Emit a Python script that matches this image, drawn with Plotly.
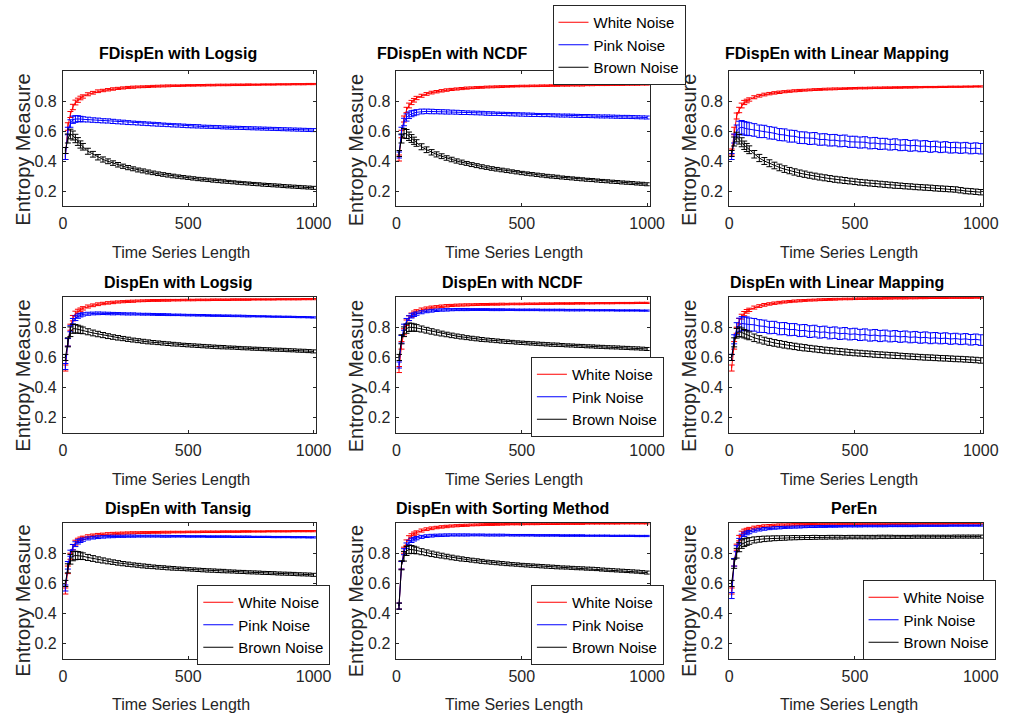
import plotly.graph_objects as go

# ---------------- data ----------------
X = [10, 20, 30, 40, 50, 60, 70, 80,
     100, 120, 140, 160, 180, 200, 220, 240, 260, 280, 300,
     320, 340, 360, 380, 400, 420, 440, 460, 480, 500,
     520, 540, 560, 580, 600, 620, 640, 660, 680, 700,
     720, 740, 760, 780, 800, 820, 840, 860, 880, 900,
     920, 940, 960, 980, 1000]

TITLES = ["FDispEn with Logsig", "FDispEn with NCDF", "FDispEn with Linear Mapping",
          "DispEn with Logsig", "DispEn with NCDF", "DispEn with Linear Mapping",
          "DispEn with Tansig", "DispEn with Sorting Method", "PerEn"]
SERIES_NAMES = ["White Noise", "Pink Noise", "Brown Noise"]
X_TICKS = [0, 500, 1000]
Y_TICKS = [0.2, 0.4, 0.6, 0.8]

# Panel 1: FDispEn with Logsig
W1 = [0.43, 0.63, 0.71, 0.76, 0.79, 0.805, 0.82, 0.83,
      0.845, 0.855, 0.865, 0.87, 0.875, 0.88, 0.884, 0.887, 0.89, 0.892, 0.894,
      0.895, 0.896, 0.898, 0.899, 0.9, 0.901, 0.902, 0.902, 0.903, 0.904,
      0.904, 0.905, 0.905, 0.906, 0.906, 0.907, 0.907, 0.907, 0.908, 0.908,
      0.908, 0.909, 0.909, 0.909, 0.91, 0.91, 0.91, 0.911, 0.911, 0.911,
      0.912, 0.912, 0.912, 0.913, 0.913]
P1 = [0.43, 0.6, 0.65, 0.675, 0.68, 0.682, 0.68, 0.678,
      0.676, 0.673, 0.671, 0.668, 0.667, 0.664, 0.661, 0.659, 0.656, 0.654, 0.652,
      0.65, 0.648, 0.646, 0.644, 0.642, 0.64, 0.638, 0.637, 0.635, 0.633,
      0.632, 0.631, 0.629, 0.628, 0.627, 0.626, 0.624, 0.623, 0.622, 0.621,
      0.62, 0.619, 0.618, 0.617, 0.616, 0.615, 0.614, 0.613, 0.612, 0.611,
      0.61, 0.609, 0.608, 0.607, 0.606]
B1 = [0.47, 0.55, 0.58, 0.57, 0.55, 0.53, 0.51, 0.495,
      0.465, 0.445, 0.425, 0.41, 0.398, 0.386, 0.375, 0.365, 0.356, 0.348, 0.34,
      0.334, 0.327, 0.321, 0.315, 0.31, 0.305, 0.3, 0.296, 0.292, 0.288,
      0.284, 0.28, 0.277, 0.274, 0.27, 0.267, 0.264, 0.261, 0.258, 0.255,
      0.252, 0.25, 0.247, 0.245, 0.242, 0.24, 0.238, 0.236, 0.233, 0.231,
      0.229, 0.227, 0.225, 0.223, 0.221]

# Panel 2: FDispEn with NCDF
W2 = [0.42, 0.58, 0.68, 0.74, 0.77, 0.79, 0.805, 0.82,
      0.835, 0.847, 0.856, 0.862, 0.868, 0.873, 0.877, 0.88, 0.883, 0.886, 0.888,
      0.89, 0.891, 0.893, 0.894, 0.895, 0.896, 0.897, 0.898, 0.899, 0.9,
      0.9, 0.901, 0.901, 0.902, 0.902, 0.903, 0.903, 0.904, 0.904, 0.905,
      0.905, 0.905, 0.906, 0.906, 0.907, 0.907, 0.907, 0.908, 0.908, 0.908,
      0.909, 0.909, 0.909, 0.91, 0.91]
P2 = [0.44, 0.6, 0.66, 0.69, 0.705, 0.715, 0.72, 0.725,
      0.73, 0.731, 0.73, 0.729, 0.728, 0.727, 0.726, 0.725, 0.723, 0.722, 0.721,
      0.72, 0.719, 0.717, 0.716, 0.715, 0.714, 0.713, 0.712, 0.711, 0.71,
      0.709, 0.708, 0.707, 0.706, 0.706, 0.705, 0.704, 0.703, 0.703, 0.702,
      0.701, 0.7, 0.7, 0.699, 0.698, 0.697, 0.697, 0.696, 0.695, 0.694,
      0.694, 0.693, 0.692, 0.691, 0.69]
B2 = [0.45, 0.55, 0.585, 0.58, 0.565, 0.55, 0.535, 0.52,
      0.495, 0.475, 0.458, 0.444, 0.432, 0.42, 0.41, 0.4, 0.392, 0.384, 0.376,
      0.369, 0.362, 0.356, 0.35, 0.345, 0.34, 0.335, 0.33, 0.325, 0.32,
      0.316, 0.312, 0.308, 0.304, 0.3, 0.297, 0.294, 0.29, 0.287, 0.284,
      0.281, 0.278, 0.275, 0.273, 0.27, 0.267, 0.265, 0.262, 0.26, 0.257,
      0.255, 0.253, 0.25, 0.248, 0.245]

# Panel 3: FDispEn with Linear Mapping
W3 = [0.46, 0.6, 0.7, 0.74, 0.77, 0.79, 0.8, 0.81,
      0.825, 0.835, 0.843, 0.849, 0.854, 0.858, 0.862, 0.865, 0.868, 0.87, 0.872,
      0.874, 0.876, 0.877, 0.879, 0.88, 0.881, 0.882, 0.883, 0.884, 0.885,
      0.886, 0.886, 0.887, 0.888, 0.888, 0.889, 0.889, 0.89, 0.89, 0.891,
      0.891, 0.892, 0.892, 0.893, 0.893, 0.893, 0.894, 0.894, 0.895, 0.895,
      0.895, 0.896, 0.896, 0.897, 0.897]
P3 = [0.43, 0.55, 0.6, 0.62, 0.625, 0.618, 0.615, 0.612,
      0.607, 0.598, 0.597, 0.588, 0.585, 0.576, 0.574, 0.566, 0.565, 0.556, 0.555,
      0.549, 0.551, 0.543, 0.544, 0.538, 0.539, 0.533, 0.535, 0.528, 0.528,
      0.523, 0.525, 0.518, 0.52, 0.514, 0.515, 0.509, 0.512, 0.505, 0.507,
      0.501, 0.504, 0.498, 0.5, 0.494, 0.497, 0.491, 0.494, 0.488, 0.49,
      0.486, 0.489, 0.483, 0.486, 0.482]
B3 = [0.45, 0.53, 0.56, 0.545, 0.525, 0.505, 0.49, 0.475,
      0.445, 0.42, 0.4, 0.385, 0.37, 0.357, 0.346, 0.336, 0.327, 0.319, 0.312,
      0.305, 0.299, 0.293, 0.288, 0.283, 0.278, 0.274, 0.27, 0.266, 0.262,
      0.258, 0.255, 0.252, 0.249, 0.246, 0.243, 0.24, 0.237, 0.235, 0.232,
      0.23, 0.227, 0.225, 0.223, 0.221, 0.218, 0.216, 0.214, 0.212, 0.21,
      0.205, 0.2, 0.198, 0.195, 0.192]

# Panel 4: DispEn with Logsig
W4 = [0.53, 0.7, 0.8, 0.86, 0.89, 0.905, 0.915, 0.925,
      0.937, 0.945, 0.952, 0.957, 0.961, 0.964, 0.967, 0.969, 0.971, 0.972, 0.974,
      0.975, 0.976, 0.977, 0.977, 0.978, 0.978, 0.979, 0.979, 0.98, 0.98,
      0.98, 0.981, 0.981, 0.981, 0.982, 0.982, 0.982, 0.982, 0.983, 0.983,
      0.983, 0.983, 0.984, 0.984, 0.984, 0.984, 0.984, 0.985, 0.985, 0.985,
      0.985, 0.985, 0.986, 0.986, 0.986]
P4 = [0.54, 0.7, 0.79, 0.84, 0.86, 0.873, 0.88, 0.885,
      0.889, 0.891, 0.892, 0.892, 0.891, 0.89, 0.89, 0.889, 0.888, 0.888, 0.887,
      0.886, 0.886, 0.885, 0.884, 0.884, 0.883, 0.882, 0.882, 0.881, 0.88,
      0.88, 0.879, 0.879, 0.878, 0.877, 0.877, 0.876, 0.876, 0.875, 0.875,
      0.874, 0.873, 0.873, 0.872, 0.872, 0.871, 0.87, 0.87, 0.869, 0.869,
      0.868, 0.867, 0.867, 0.866, 0.865]
B4 = [0.6, 0.7, 0.77, 0.79, 0.79, 0.787, 0.783, 0.779,
      0.77, 0.762, 0.755, 0.748, 0.741, 0.735, 0.73, 0.725, 0.72, 0.715, 0.711,
      0.707, 0.703, 0.7, 0.697, 0.694, 0.691, 0.688, 0.686, 0.683, 0.681,
      0.679, 0.677, 0.675, 0.673, 0.671, 0.669, 0.668, 0.666, 0.665, 0.663,
      0.661, 0.66, 0.658, 0.657, 0.655, 0.654, 0.652, 0.651, 0.65, 0.648,
      0.647, 0.645, 0.644, 0.642, 0.64]

# Panel 5: DispEn with NCDF
W5 = [0.52, 0.68, 0.77, 0.83, 0.86, 0.88, 0.895, 0.905,
      0.917, 0.925, 0.931, 0.935, 0.939, 0.942, 0.944, 0.946, 0.947, 0.948, 0.949,
      0.95, 0.951, 0.951, 0.952, 0.952, 0.953, 0.953, 0.954, 0.954, 0.954,
      0.955, 0.955, 0.955, 0.956, 0.956, 0.956, 0.957, 0.957, 0.957, 0.957,
      0.958, 0.958, 0.958, 0.958, 0.959, 0.959, 0.959, 0.959, 0.96, 0.96,
      0.96, 0.96, 0.961, 0.961, 0.961]
P5 = [0.55, 0.72, 0.8, 0.84, 0.86, 0.875, 0.883, 0.89,
      0.899, 0.905, 0.909, 0.912, 0.914, 0.915, 0.916, 0.917, 0.917, 0.917, 0.917,
      0.917, 0.917, 0.917, 0.916, 0.916, 0.916, 0.916, 0.916, 0.915, 0.915,
      0.915, 0.915, 0.915, 0.914, 0.914, 0.914, 0.914, 0.914, 0.913, 0.913,
      0.913, 0.913, 0.913, 0.912, 0.912, 0.912, 0.912, 0.912, 0.911, 0.911,
      0.911, 0.911, 0.911, 0.91, 0.91]
B5 = [0.6, 0.72, 0.77, 0.79, 0.8, 0.8, 0.798, 0.795,
      0.788, 0.78, 0.772, 0.765, 0.758, 0.752, 0.746, 0.741, 0.736, 0.731, 0.727,
      0.723, 0.719, 0.716, 0.713, 0.71, 0.707, 0.704, 0.702, 0.699, 0.697,
      0.695, 0.693, 0.691, 0.689, 0.687, 0.685, 0.684, 0.682, 0.68, 0.679,
      0.677, 0.676, 0.674, 0.673, 0.671, 0.67, 0.668, 0.667, 0.666, 0.664,
      0.663, 0.661, 0.66, 0.658, 0.656]

# Panel 6: DispEn with Linear Mapping
W6 = [0.53, 0.68, 0.78, 0.84, 0.87, 0.89, 0.905, 0.915,
      0.93, 0.94, 0.948, 0.954, 0.959, 0.963, 0.967, 0.97, 0.973, 0.975, 0.977,
      0.979, 0.98, 0.982, 0.983, 0.984, 0.985, 0.986, 0.987, 0.987, 0.988,
      0.989, 0.989, 0.99, 0.99, 0.99, 0.991, 0.991, 0.992, 0.992, 0.992,
      0.993, 0.993, 0.993, 0.993, 0.994, 0.994, 0.994, 0.994, 0.995, 0.995,
      0.995, 0.995, 0.995, 0.996, 0.996]
P6 = [0.6, 0.72, 0.79, 0.815, 0.825, 0.822, 0.824, 0.818,
      0.816, 0.808, 0.806, 0.798, 0.799, 0.79, 0.791, 0.784, 0.785, 0.777, 0.779,
      0.771, 0.774, 0.766, 0.769, 0.761, 0.764, 0.757, 0.76, 0.753, 0.756,
      0.749, 0.752, 0.745, 0.748, 0.742, 0.745, 0.739, 0.742, 0.736, 0.739,
      0.733, 0.736, 0.73, 0.733, 0.727, 0.73, 0.725, 0.728, 0.722, 0.725,
      0.72, 0.723, 0.717, 0.72, 0.715]
B6 = [0.6, 0.7, 0.76, 0.77, 0.765, 0.757, 0.75, 0.743,
      0.73, 0.72, 0.711, 0.703, 0.696, 0.69, 0.684, 0.678, 0.673, 0.668, 0.664,
      0.66, 0.656, 0.652, 0.648, 0.645, 0.642, 0.639, 0.636, 0.633, 0.63,
      0.628, 0.625, 0.623, 0.62, 0.618, 0.616, 0.614, 0.612, 0.61, 0.608,
      0.606, 0.604, 0.602, 0.6, 0.599, 0.597, 0.595, 0.594, 0.592, 0.59,
      0.589, 0.587, 0.585, 0.583, 0.58]

# Panel 7: DispEn with Tansig
W7 = [0.55, 0.69, 0.78, 0.84, 0.87, 0.885, 0.895, 0.902,
      0.912, 0.918, 0.922, 0.925, 0.928, 0.93, 0.932, 0.933, 0.934, 0.935, 0.936,
      0.937, 0.937, 0.938, 0.938, 0.939, 0.939, 0.94, 0.94, 0.94, 0.941,
      0.941, 0.941, 0.942, 0.942, 0.942, 0.942, 0.943, 0.943, 0.943, 0.943,
      0.944, 0.944, 0.944, 0.944, 0.944, 0.945, 0.945, 0.945, 0.945, 0.945,
      0.946, 0.946, 0.946, 0.946, 0.946]
P7 = [0.57, 0.72, 0.8, 0.84, 0.86, 0.875, 0.883, 0.89,
      0.898, 0.903, 0.906, 0.908, 0.91, 0.911, 0.912, 0.912, 0.913, 0.913, 0.913,
      0.913, 0.913, 0.913, 0.913, 0.912, 0.912, 0.912, 0.912, 0.912, 0.911,
      0.911, 0.911, 0.911, 0.91, 0.91, 0.91, 0.91, 0.91, 0.909, 0.909,
      0.909, 0.909, 0.908, 0.908, 0.908, 0.908, 0.907, 0.907, 0.907, 0.907,
      0.906, 0.906, 0.906, 0.905, 0.905]
B7 = [0.6, 0.7, 0.76, 0.78, 0.785, 0.785, 0.783, 0.78,
      0.772, 0.765, 0.758, 0.752, 0.746, 0.741, 0.736, 0.731, 0.727, 0.723, 0.72,
      0.716, 0.713, 0.71, 0.707, 0.705, 0.702, 0.7, 0.698, 0.696, 0.694,
      0.692, 0.69, 0.688, 0.686, 0.685, 0.683, 0.682, 0.68, 0.679, 0.677,
      0.676, 0.674, 0.673, 0.672, 0.67, 0.669, 0.668, 0.666, 0.665, 0.664,
      0.663, 0.661, 0.66, 0.659, 0.657]

# Panel 8: DispEn with Sorting Method
W8 = [0.45, 0.72, 0.82, 0.87, 0.9, 0.915, 0.928, 0.937,
      0.95, 0.959, 0.965, 0.97, 0.974, 0.977, 0.98, 0.982, 0.984, 0.985, 0.987,
      0.988, 0.989, 0.99, 0.99, 0.991, 0.992, 0.992, 0.993, 0.993, 0.993,
      0.994, 0.994, 0.994, 0.995, 0.995, 0.995, 0.995, 0.996, 0.996, 0.996,
      0.996, 0.996, 0.997, 0.997, 0.997, 0.997, 0.997, 0.997, 0.997, 0.998,
      0.998, 0.998, 0.998, 0.998, 0.998]
P8 = [0.45, 0.72, 0.81, 0.85, 0.87, 0.885, 0.893, 0.9,
      0.908, 0.913, 0.916, 0.918, 0.919, 0.92, 0.921, 0.921, 0.921, 0.921, 0.921,
      0.921, 0.921, 0.92, 0.92, 0.92, 0.92, 0.92, 0.919, 0.919, 0.919,
      0.919, 0.919, 0.918, 0.918, 0.918, 0.918, 0.918, 0.917, 0.917, 0.917,
      0.917, 0.917, 0.916, 0.916, 0.916, 0.916, 0.916, 0.915, 0.915, 0.915,
      0.915, 0.915, 0.914, 0.914, 0.914]
B8 = [0.45, 0.72, 0.78, 0.815, 0.825, 0.825, 0.822, 0.818,
      0.81, 0.803, 0.796, 0.79, 0.784, 0.778, 0.772, 0.767, 0.762, 0.758, 0.754,
      0.75, 0.746, 0.742, 0.739, 0.736, 0.733, 0.73, 0.727, 0.725, 0.722,
      0.72, 0.718, 0.716, 0.714, 0.712, 0.71, 0.708, 0.706, 0.705, 0.703,
      0.701, 0.7, 0.698, 0.697, 0.695, 0.692, 0.69, 0.688, 0.686, 0.684,
      0.682, 0.68, 0.678, 0.675, 0.672]

# Panel 9: PerEn
W9 = [0.55, 0.74, 0.84, 0.9, 0.93, 0.945, 0.953, 0.96,
      0.969, 0.975, 0.979, 0.982, 0.984, 0.986, 0.987, 0.988, 0.989, 0.99, 0.99,
      0.991, 0.991, 0.992, 0.992, 0.992, 0.993, 0.993, 0.993, 0.993, 0.994,
      0.994, 0.994, 0.994, 0.994, 0.995, 0.995, 0.995, 0.995, 0.995, 0.995,
      0.996, 0.996, 0.996, 0.996, 0.996, 0.996, 0.996, 0.996, 0.997, 0.997,
      0.997, 0.997, 0.997, 0.997, 0.997]
P9 = [0.52, 0.74, 0.83, 0.88, 0.91, 0.925, 0.934, 0.94,
      0.95, 0.956, 0.961, 0.964, 0.967, 0.969, 0.971, 0.972, 0.973, 0.974, 0.975,
      0.976, 0.976, 0.977, 0.977, 0.978, 0.978, 0.978, 0.979, 0.979, 0.979,
      0.979, 0.98, 0.98, 0.98, 0.98, 0.98, 0.981, 0.981, 0.981, 0.981,
      0.981, 0.981, 0.982, 0.982, 0.982, 0.982, 0.982, 0.982, 0.983, 0.983,
      0.983, 0.983, 0.983, 0.983, 0.983]
B9 = [0.6, 0.73, 0.8, 0.84, 0.86, 0.87, 0.876, 0.881,
      0.888, 0.892, 0.895, 0.897, 0.899, 0.9, 0.901, 0.902, 0.903, 0.903, 0.904,
      0.904, 0.905, 0.905, 0.905, 0.906, 0.906, 0.906, 0.906, 0.907, 0.907,
      0.907, 0.907, 0.907, 0.907, 0.908, 0.908, 0.908, 0.908, 0.908, 0.908,
      0.908, 0.909, 0.909, 0.909, 0.909, 0.909, 0.909, 0.909, 0.909, 0.91,
      0.91, 0.91, 0.91, 0.91, 0.91]

# error-bar half-lengths
E_TIGHT = [0.02, 0.025, 0.02, 0.018, 0.016, 0.014, 0.012, 0.011,
           0.01, 0.009, 0.009, 0.008, 0.008, 0.008, 0.007, 0.007, 0.007, 0.007, 0.006,
           0.006, 0.006, 0.006, 0.006, 0.006, 0.006, 0.005, 0.005, 0.005, 0.005,
           0.005, 0.005, 0.005, 0.005, 0.005, 0.005, 0.005, 0.005, 0.005, 0.005,
           0.005, 0.005, 0.004, 0.004, 0.004, 0.004, 0.004, 0.004, 0.004, 0.004,
           0.004, 0.004, 0.004, 0.004, 0.004]
E_BLUE = [0.02, 0.025, 0.025, 0.024, 0.022, 0.02, 0.018, 0.017,
          0.016, 0.015, 0.015, 0.014, 0.014, 0.014, 0.013, 0.013, 0.013, 0.012, 0.012,
          0.012, 0.012, 0.012, 0.012, 0.011, 0.011, 0.011, 0.011, 0.011, 0.011,
          0.011, 0.011, 0.01, 0.01, 0.01, 0.01, 0.01, 0.01, 0.01, 0.01,
          0.01, 0.01, 0.01, 0.01, 0.01, 0.01, 0.01, 0.01, 0.01, 0.01,
          0.01, 0.01, 0.01, 0.01, 0.01]
E_MED = [0.02, 0.03, 0.032, 0.03, 0.028, 0.026, 0.024, 0.022,
         0.02, 0.019, 0.018, 0.017, 0.016, 0.015, 0.015, 0.014, 0.014, 0.013, 0.013,
         0.013, 0.013, 0.012, 0.012, 0.012, 0.012, 0.012, 0.011, 0.011, 0.011,
         0.011, 0.011, 0.011, 0.011, 0.011, 0.011, 0.011, 0.01, 0.01, 0.01,
         0.01, 0.01, 0.01, 0.01, 0.01, 0.01, 0.01, 0.01, 0.01, 0.01,
         0.01, 0.01, 0.01, 0.01, 0.01]
E_MEDL = [0.02, 0.03, 0.032, 0.032, 0.03, 0.028, 0.027, 0.026,
          0.025, 0.024, 0.023, 0.023, 0.022, 0.022, 0.022, 0.021, 0.021, 0.021, 0.021,
          0.02, 0.02, 0.02, 0.02, 0.02, 0.02, 0.02, 0.02, 0.019, 0.019,
          0.019, 0.019, 0.019, 0.019, 0.019, 0.019, 0.019, 0.019, 0.018, 0.018,
          0.018, 0.018, 0.018, 0.018, 0.018, 0.018, 0.018, 0.018, 0.018, 0.018,
          0.018, 0.018, 0.018, 0.018, 0.018]
E_WIDE = [0.02, 0.03, 0.04, 0.045, 0.045, 0.045, 0.044, 0.043,
          0.042, 0.042, 0.041, 0.041, 0.04, 0.04, 0.04, 0.04, 0.039, 0.039, 0.039,
          0.039, 0.039, 0.038, 0.038, 0.038, 0.038, 0.038, 0.038, 0.037, 0.037,
          0.037, 0.037, 0.037, 0.037, 0.037, 0.036, 0.036, 0.036, 0.036, 0.036,
          0.036, 0.036, 0.036, 0.036, 0.036, 0.035, 0.035, 0.035, 0.035, 0.035,
          0.035, 0.035, 0.035, 0.035, 0.035]

PANELS = [
    (W1, P1, B1, E_TIGHT, E_BLUE, E_MED),
    (W2, P2, B2, E_TIGHT, E_BLUE, E_MED),
    (W3, P3, B3, E_TIGHT, E_WIDE, E_MEDL),
    (W4, P4, B4, E_TIGHT, E_TIGHT, E_MED),
    (W5, P5, B5, E_TIGHT, E_TIGHT, E_MED),
    (W6, P6, B6, E_TIGHT, E_WIDE, E_MEDL),
    (W7, P7, B7, E_TIGHT, E_TIGHT, E_MED),
    (W8, P8, B8, E_TIGHT, E_TIGHT, E_MED),
    (W9, P9, B9, E_TIGHT, E_TIGHT, E_MED),
]

# ---------------- styling / layout ----------------
W, H = 1012, 718
FONT = "Liberation Sans, Arial, Helvetica, sans-serif"
AX = "#262626"
COLORS = ["#ff0000", "#0000ff", "#000000"]

COL_X = [(60, 318), (400, 658), (739, 998)]
ROW_Y = [(71, 206), (297, 433), (523, 659)]

# title centres (px), x-title centres, y-title centres
TITLE_X = [177, 457, 849, 177, 518, 849, 177, 508, 866]
TITLE_Y = [54, 282, 508]
XT_X = [180, 520, 861]
XT_Y = [252, 479, 704]
YT_X = [19, 359, 698]
YT_Y = [150, 376, 601]

# which panel has which legend, and legend box top-left (px)
LEGENDS = {1: ("legend", 559, 5), 4: ("legend2", 537, 357), 6: ("legend3", 197, 585),
           7: ("legend4", 537, 585), 8: ("legend5", 875, 580)}

fig = go.Figure()
layout = dict(width=W, height=H, margin=dict(l=0, r=0, t=0, b=0),
              paper_bgcolor="white", plot_bgcolor="white",
              font=dict(family=FONT, color=AX), annotations=[])

for i, (wv, pv, bv, ew, ep, eb) in enumerate(PANELS):
    r, c = divmod(i, 3)
    n = "" if i == 0 else str(i + 1)
    leg = LEGENDS.get(i)
    for name, ys, es, color in zip(SERIES_NAMES, (wv, pv, bv), (ew, ep, eb), COLORS):
        kw = dict(x=X, y=ys, mode="lines", name=name,
                  line=dict(color=color, width=1),
                  error_y=dict(type="data", array=es, visible=True, color=color,
                               thickness=1, width=3),
                  xaxis="x" + n, yaxis="y" + n, showlegend=leg is not None)
        if leg is not None:
            kw["legend"] = leg[0]
        fig.add_trace(go.Scatter(**kw))

    x0, x1 = COL_X[c]
    y0, y1 = ROW_Y[r]
    common = dict(showline=True, linecolor=AX, linewidth=1, mirror="ticks",
                  ticks="inside", ticklen=3, tickcolor=AX, tickwidth=1,
                  showgrid=False, zeroline=False,
                  tickfont=dict(size=16, color=AX, family=FONT))
    layout["xaxis" + n] = dict(common, domain=[x0 / W, x1 / W], anchor="y" + n,
                               range=[0, 1010], tickvals=X_TICKS,
                               ticklabelstandoff=3)
    layout["yaxis" + n] = dict(common, domain=[1 - y1 / H, 1 - y0 / H], anchor="x" + n,
                               range=[0.1, 1.0], tickvals=Y_TICKS,
                               tickformat=".1f", ticklabelstandoff=2)

    layout["annotations"] += [
        dict(text="<b>" + TITLES[i] + "</b>", x=TITLE_X[i] / W, y=1 - TITLE_Y[r] / H,
             xref="paper", yref="paper", xanchor="center", yanchor="middle",
             showarrow=False, font=dict(size=16, color="#000000", family=FONT)),
        dict(text="Time Series Length", x=XT_X[c] / W, y=1 - XT_Y[r] / H,
             xref="paper", yref="paper", xanchor="center", yanchor="middle",
             showarrow=False, font=dict(size=16, color=AX, family=FONT)),
        dict(text="Entropy Measure", x=YT_X[c] / W, y=1 - YT_Y[r] / H, textangle=-90,
             xref="paper", yref="paper", xanchor="center", yanchor="middle",
             showarrow=False, font=dict(size=20, color=AX, family=FONT)),
    ]

for i, (lname, lx, ly) in LEGENDS.items():
    layout[lname] = dict(x=lx / W, y=1 - ly / H, xref="paper", yref="paper",
                         xanchor="left", yanchor="top", bgcolor="white",
                         bordercolor=AX, borderwidth=1, itemwidth=30,
                         tracegroupgap=0,
                         font=dict(size=15, color="#000000", family=FONT))

fig.update_layout(**layout)
fig.write_html("out.html")
